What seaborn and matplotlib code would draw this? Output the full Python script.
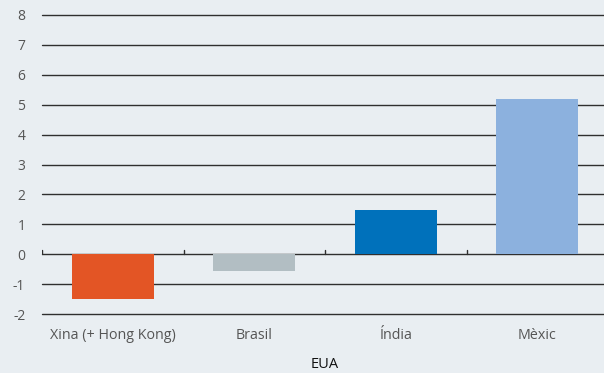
import pandas as pd
import matplotlib.pyplot as plt
import seaborn as sns

# values
countries = ['Xina (+ Hong Kong)', 'Brasil', 'Índia', 'Mèxic']
values = [-1.5, -0.55, 1.48, 5.19]
bar_colors = ['#E35525', '#B2BEC3', '#0071BB', '#8CB1DE']
y_ticks = [-2, -1, 0, 1, 2, 3, 4, 5, 6, 7, 8]
x_title = 'EUA'

bg = '#E9EEF2'
sns.set_style('white')
plt.rcParams['font.family'] = ['Open Sans', 'DejaVu Sans']

df = pd.DataFrame({'country': countries, 'value': values})

fig = plt.figure(figsize=(6.04, 3.73), dpi=100, facecolor=bg)
ax = fig.add_axes([42 / 604, 59 / 373, 566 / 604, (314 - 15) / 373])
ax.set_facecolor(bg)

# horizontal gridlines behind bars
for t in y_ticks:
    ax.axhline(t, color='#2f2f2f', lw=1.0, zorder=0, clip_on=False)

sns.barplot(data=df, x='country', y='value', hue='country', palette=bar_colors,
            width=0.58, legend=False, saturation=1, linewidth=0, ax=ax, zorder=2)

# small category separators on the zero line
for b in [-0.5, 0.5, 1.5, 2.5]:
    ax.plot([b, b], [0, 0.15], color='#2f2f2f', lw=1.0, zorder=1)

ax.set_xlim(-0.5, 3.5)
ax.set_ylim(-2, 8)
ax.set_yticks(y_ticks)
ax.set_yticklabels([str(t) for t in y_ticks], fontsize=10, color='#555555')
ax.tick_params(axis='both', length=0)
ax.tick_params(axis='y', pad=12)
ax.tick_params(axis='x', pad=10, labelsize=10.3, labelcolor='#555555')
ax.set_xlabel(x_title, fontsize=10.5, color='#111111', labelpad=10)
ax.set_ylabel('')
for s in ax.spines.values():
    s.set_visible(False)

fig.savefig('out.png', dpi=100, facecolor=bg)
